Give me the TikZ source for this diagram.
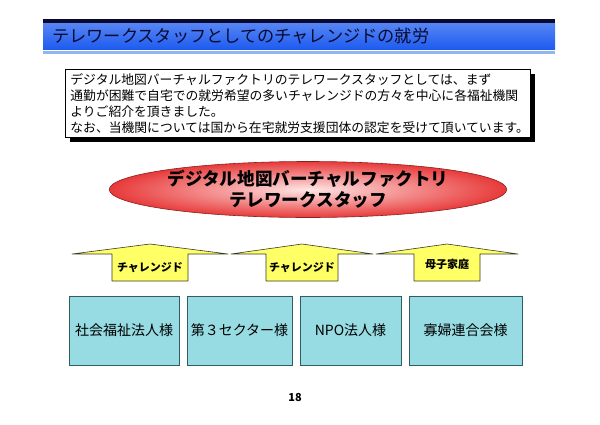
\documentclass[tikz,border=0pt]{standalone}
\usepackage{fontspec}
\setmainfont{Noto Sans CJK JP}
\usetikzlibrary{shapes.geometric,shadows}
\definecolor{barink}{HTML}{0A0A30}
\definecolor{barblue}{HTML}{1E5CF0}
\definecolor{barline}{HTML}{8FB8F0}
\definecolor{arrowfill}{HTML}{FFFF66}
\definecolor{arrowline}{HTML}{3A3A2A}
\definecolor{boxfill}{HTML}{96DCE2}
\definecolor{boxline}{HTML}{2E5E63}
\definecolor{ovalred}{HTML}{E83A3A}
\definecolor{ovalcore}{HTML}{FFE6E6}
\definecolor{ovalline}{HTML}{8A2020}
\tikzset{
  yarrow/.style={fill=arrowfill,draw=arrowline,line width=0.6pt,line join=round},
  arrowlabel/.style={font=\fontsize{11}{11}\selectfont\bfseries,inner sep=0pt},
  orgbox/.style={draw=boxline,fill=boxfill,line width=0.8pt,minimum height=69pt,inner sep=0pt,font=\fontsize{14}{14}\selectfont},
}
\begin{document}
\begin{tikzpicture}[x=1pt,y=-1pt]
    \useasboundingbox (0,0) rectangle (600,424);
    % barra del titolo
    \fill[barink] (43,19) rectangle (555,23);
    \shade[top color=barblue!75!white,bottom color=barblue] (43,23) rectangle (555,49);
    \fill[barline] (43,50.5) rectangle (555,54);
    \node[anchor=west,inner sep=0pt,text=barink,font=\fontsize{17.2}{17}\selectfont] (title) at (52,36) {テレワークスタッフとしてのチャレンジドの就労};
    % riquadro con ombra
    \node[anchor=north west,draw=black,fill=white,line width=0.8pt,
          drop shadow={shadow xshift=5pt,shadow yshift=-5pt,fill=black,opacity=1},
          text width=455pt,inner xsep=5pt,inner ysep=3pt,minimum height=68pt,align=left,
          font=\fontsize{12.8}{16.2}\selectfont] (intro) at (65,69)
      {デジタル地図バーチャルファクトリのテレワークスタッフとしては、まず\\
       通勤が困難で自宅での就労希望の多いチャレンジドの方々を中心に各福祉機関\\
       よりご紹介を頂きました。\\
       なお、当機関については国から在宅就労支援団体の認定を受けて頂いています。};
    % ellisse
    \node[ellipse,draw=ovalline,line width=0.6pt,shade,inner color=ovalcore,outer color=ovalred,
          minimum width=396pt,minimum height=56pt,inner sep=0pt,align=center,
          font=\fontsize{17.6}{21}\selectfont\bfseries] (staff) at (308,189.5)
      {デジタル地図バーチャルファクトリ\\テレワークスタッフ};
    % frecce: centro / mezza punta / mezzo fusto / testo / y testo
    \foreach \cx/\hw/\sw/\lab/\ly [count=\i] in {150/78/38/チャレンジド/268,302/71/36/チャレンジド/268,447/71/33/母子家庭/264}{
      \draw[yarrow] (\cx-\sw,281) -- (\cx-\sw,254) -- (\cx-\hw,254) -- (\cx,244)
                    -- (\cx+\hw,254) -- (\cx+\sw,254) -- (\cx+\sw,281) -- cycle;
      \node[arrowlabel] (source\i) at (\cx,\ly) {\lab};
    }
    % enti
    \node[orgbox,minimum width=110pt] (welfare) at (124,330.5) {社会福祉法人様};
    \node[orgbox,minimum width=105pt] (thirdsector) at (239.5,330.5) {第３セクター様};
    \node[orgbox,minimum width=101pt] (npo) at (350.5,330.5) {NPO法人様};
    \node[orgbox,minimum width=113pt] (widows) at (465.5,330.5) {寡婦連合会様};
    \node[font=\fontsize{11}{11}\selectfont\bfseries] (pageno) at (295,397) {18};
  \end{tikzpicture}
\end{document}
